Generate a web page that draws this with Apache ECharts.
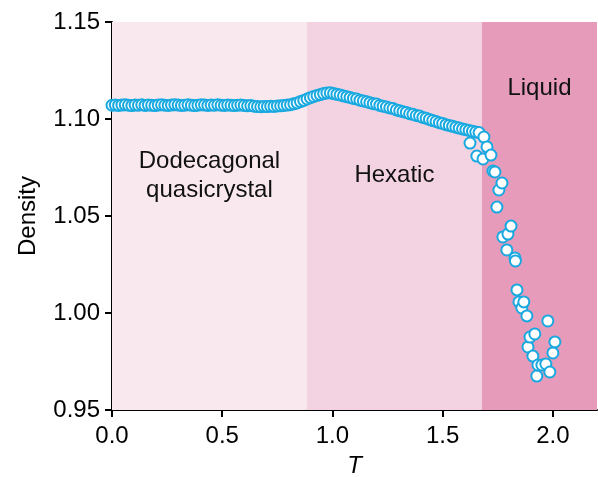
<!DOCTYPE html>
<html>
<head>
<meta charset="utf-8">
<script src="https://cdn.jsdelivr.net/npm/echarts@6/dist/echarts.min.js"></script>
<style>
html,body{margin:0;padding:0;background:#fff;}
#chart{width:598px;height:477px;}
</style>
</head>
<body>
<div id="chart"></div>
<script>
// Dense ordered sweep (dodecagonal quasicrystal -> hexatic)
var tempSweep = [
0.000,0.015,0.030,0.045,0.060,0.075,0.090,0.105,0.120,0.135,
0.150,0.165,0.180,0.195,0.210,0.225,0.240,0.255,0.270,0.285,
0.300,0.315,0.330,0.345,0.360,0.375,0.390,0.405,0.420,0.435,
0.450,0.465,0.480,0.495,0.510,0.525,0.540,0.555,0.570,0.585,
0.600,0.615,0.630,0.645,0.660,0.675,0.690,0.705,0.720,0.735,
0.750,0.765,0.780,0.795,0.810,0.825,0.840,0.855,0.870,0.885,
0.900,0.915,0.930,0.945,0.960,0.975,0.990,1.005,1.020,1.035,
1.050,1.065,1.080,1.095,1.110,1.125,1.140,1.155,1.170,1.185,
1.200,1.215,1.230,1.245,1.260,1.275,1.290,1.305,1.320,1.335,
1.350,1.365,1.380,1.395,1.410,1.425,1.440,1.455,1.470,1.485,
1.500,1.515,1.530,1.545,1.560,1.575,1.590,1.605,1.620,1.635,
1.650,1.665
];
var densitySweep = [
1.1071,1.1072,1.1070,1.1072,1.1073,1.1071,1.1069,1.1072,1.1071,1.1073,
1.1070,1.1072,1.1071,1.1069,1.1072,1.1073,1.1071,1.1070,1.1072,1.1074,
1.1072,1.1070,1.1071,1.1073,1.1071,1.1069,1.1071,1.1073,1.1072,1.1070,
1.1072,1.1071,1.1073,1.1071,1.1070,1.1072,1.1071,1.1069,1.1071,1.1072,
1.1070,1.1068,1.1069,1.1066,1.1064,1.1063,1.1065,1.1064,1.1066,1.1065,
1.1067,1.1068,1.1070,1.1072,1.1074,1.1078,1.1083,1.1090,1.1096,1.1103,
1.1110,1.1116,1.1121,1.1126,1.1131,1.1134,1.1135,1.1131,1.1127,1.1124,
1.1119,1.1115,1.1111,1.1106,1.1103,1.1097,1.1093,1.1089,1.1084,1.1079,
1.1077,1.1070,1.1066,1.1062,1.1057,1.1054,1.1047,1.1042,1.1038,1.1034,
1.1027,1.1024,1.1018,1.1015,1.1008,1.1004,1.0998,1.0992,1.0987,1.0981,
1.0977,1.0971,1.0967,1.0962,1.0958,1.0953,1.0949,1.0945,1.0941,1.0937,
1.0933,1.0930
];
// Scattered points (melting / liquid)
var tempLiquid = [
1.624,1.655,1.683,1.687,1.701,1.719,1.728,1.737,1.746,1.755,
1.769,1.773,1.791,1.796,1.810,1.828,1.830,1.837,1.846,1.859,
1.868,1.882,1.887,1.896,1.909,1.918,1.927,1.932,1.950,1.968,
1.977,1.986,2.000,2.009
];
var densityLiquid = [
1.0876,1.0809,1.0794,1.0907,1.0856,1.0814,1.0732,1.0727,1.0546,1.0634,
1.0670,1.0392,1.0325,1.0407,1.0448,1.0284,1.0268,1.0119,1.0057,1.0026,
1.0057,0.9985,0.9825,0.9876,0.9778,0.9892,0.9675,0.9732,0.9732,0.9737,
0.9959,0.9696,0.9794,0.9851
];
// Phase regions
var phaseNames = ['Dodecagonal\nquasicrystal', 'Hexatic', 'Liquid'];
var phaseStart = [0, 0.884, 1.678];
var phaseEnd = [0.884, 1.678, 2.2];
var xTicks = [0, 0.5, 1.0, 1.5, 2.0];

var phaseColors = ['#f9e9ef', '#f3d3e2', '#e69bba'];
var phaseLabelOffset = [120, 134, 47];

var pts = [];
for (var i = 0; i < tempSweep.length; i++) pts.push([tempSweep[i], densitySweep[i]]);
for (var j = 0; j < tempLiquid.length; j++) pts.push([tempLiquid[j], densityLiquid[j]]);

var areas = phaseNames.map(function (n, k) {
  return [{
    name: n,
    xAxis: phaseStart[k],
    itemStyle: { color: phaseColors[k] },
    label: { offset: [0, phaseLabelOffset[k]] }
  }, { xAxis: phaseEnd[k] }];
});

var FONT = "'Liberation Sans', Arial, sans-serif";
var chart = echarts.init(document.getElementById('chart'), null, { renderer: 'canvas' });
chart.setOption({
  animation: false,
  backgroundColor: '#fff',
  grid: { left: 112, right: 1, top: 22, bottom: 67, containLabel: false, outerBoundsMode: 'none' },
  xAxis: {
    type: 'value', min: 0, max: 2.2,
    name: 'T', nameLocation: 'middle', nameGap: 44,
    nameTextStyle: { fontFamily: FONT, fontSize: 24, fontStyle: 'italic', color: '#000' },
    axisLine: { lineStyle: { color: '#000', width: 2 } },
    axisTick: { show: true, length: 7, lineStyle: { color: '#000', width: 2 }, customValues: xTicks },
    axisLabel: { customValues: xTicks, margin: 14, fontFamily: FONT, fontSize: 24, color: '#000',
      formatter: function (v) { return v.toFixed(1); } },
    splitLine: { show: false }
  },
  yAxis: {
    type: 'value', min: 0.95, max: 1.15, interval: 0.05,
    name: 'Density', nameLocation: 'middle', nameGap: 72,
    nameTextStyle: { fontFamily: FONT, fontSize: 24, color: '#000' },
    axisLine: { show: true, lineStyle: { color: '#000', width: 2 } },
    axisTick: { show: true, length: 7, lineStyle: { color: '#000', width: 2 } },
    axisLabel: { margin: 12, fontFamily: FONT, fontSize: 24, color: '#000',
      formatter: function (v) { return v.toFixed(2); } },
    splitLine: { show: false }
  },
  series: [{
    type: 'scatter',
    data: pts,
    symbol: 'circle',
    symbolSize: 11,
    itemStyle: { color: '#ffffff', borderColor: '#19a9e0', borderWidth: 2, opacity: 1 },
    markArea: {
      silent: true,
      label: { show: true, position: 'insideTop', fontFamily: FONT, fontSize: 24, color: '#111',
        lineHeight: 29, align: 'center' },
      data: areas
    }
  }]
});
</script>
</body>
</html>
